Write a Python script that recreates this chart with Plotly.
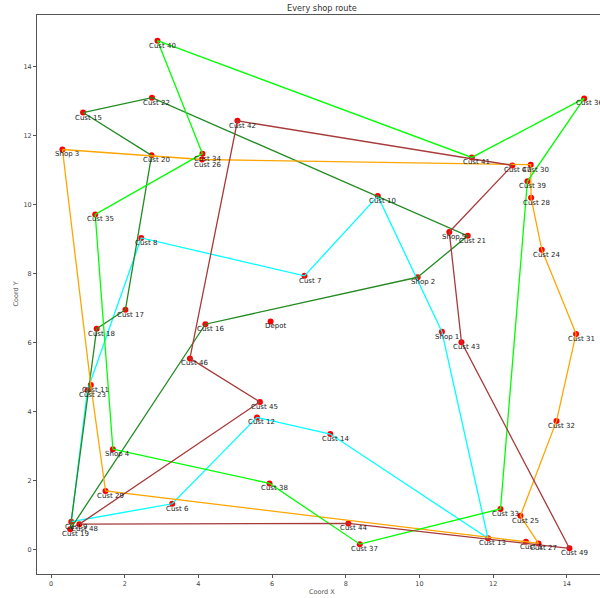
import plotly.graph_objects as go

# Node names and coordinates
node_names = [
    "Depot", "Shop 1", "Shop 2", "Shop 3", "Shop 4", "Shop 5",
    "Cust 5", "Cust 6", "Cust 7", "Cust 8", "Cust 9", "Cust 10",
    "Cust 11", "Cust 12", "Cust 13", "Cust 14", "Cust 15", "Cust 16",
    "Cust 17", "Cust 18", "Cust 19", "Cust 20", "Cust 21", "Cust 22",
    "Cust 23", "Cust 24", "Cust 25", "Cust 26", "Cust 27", "Cust 28",
    "Cust 29", "Cust 30", "Cust 31", "Cust 32", "Cust 33", "Cust 34",
    "Cust 35", "Cust 36", "Cust 37", "Cust 38", "Cust 39", "Cust 40",
    "Cust 41", "Cust 42", "Cust 43", "Cust 44", "Cust 45", "Cust 46",
    "Cust 47", "Cust 48", "Cust 49",
]
node_x = [
    5.96, 10.61, 9.95, 0.31, 1.68, 10.81,
    12.89, 3.29, 6.88, 2.45, 0.55, 8.87,
    1.08, 5.59, 11.86, 7.58, 0.87, 4.19,
    2.02, 1.24, 0.52, 2.73, 11.31, 2.74,
    0.99, 13.32, 12.74, 4.10, 13.23, 13.03,
    1.48, 13.02, 14.25, 13.72, 12.20, 4.11,
    1.20, 14.47, 8.38, 5.93, 12.93, 2.89,
    11.42, 5.06, 11.14, 8.07, 5.67, 3.77,
    12.52, 0.77, 14.07,
]
node_y = [
    6.61, 6.31, 7.89, 11.59, 2.91, 9.20,
    0.23, 1.33, 7.93, 9.03, 0.81, 10.24,
    4.77, 3.83, 0.33, 3.35, 12.66, 6.53,
    6.95, 6.40, 0.59, 11.42, 9.09, 13.09,
    4.62, 8.69, 0.98, 11.30, 0.18, 10.19,
    1.70, 11.15, 6.25, 3.73, 1.18, 11.47,
    9.71, 13.07, 0.16, 1.92, 10.67, 14.74,
    11.36, 12.42, 6.01, 0.76, 4.28, 5.54,
    11.13, 0.74, 0.04,
]

# One closed route per shop
route_shop1 = ["Shop 1", "Cust 13", "Cust 14", "Cust 12", "Cust 6", "Cust 9",
               "Cust 23", "Cust 8", "Cust 7", "Cust 10", "Shop 1"]
route_shop2 = ["Shop 2", "Cust 21", "Cust 22", "Cust 15", "Cust 20", "Cust 17",
               "Cust 18", "Cust 19", "Cust 16", "Shop 2"]
route_shop3 = ["Shop 3", "Cust 26", "Cust 30", "Cust 28", "Cust 24", "Cust 31",
               "Cust 32", "Cust 25", "Cust 27", "Cust 5", "Cust 29", "Cust 11",
               "Shop 3"]
route_shop4 = ["Shop 4", "Cust 35", "Cust 34", "Cust 40", "Cust 41", "Cust 36",
               "Cust 39", "Cust 33", "Cust 37", "Cust 38", "Shop 4"]
route_shop5 = ["Shop 5", "Cust 43", "Cust 49", "Cust 44", "Cust 48", "Cust 45",
               "Cust 46", "Cust 42", "Cust 47", "Shop 5"]

routes = [route_shop1, route_shop2, route_shop3, route_shop4, route_shop5]
route_colors = ["#00FFFF", "#228B22", "#FFA500", "#00FF00", "#A83A3A"]

x_ticks = [0, 2, 4, 6, 8, 10, 12, 14]
y_ticks = [0, 2, 4, 6, 8, 10, 12, 14]

pos = {n: (x, y) for n, x, y in zip(node_names, node_x, node_y)}

fig = go.Figure()

# Nodes
fig.add_trace(go.Scatter(
    x=node_x, y=node_y, mode="markers",
    marker=dict(color="red", size=6, line=dict(width=0)),
    hoverinfo="skip",
))

# Routes drawn over the nodes
for route, color in zip(routes, route_colors):
    fig.add_trace(go.Scatter(
        x=[pos[n][0] for n in route],
        y=[pos[n][1] for n in route],
        mode="lines",
        line=dict(color=color, width=1.3),
        hoverinfo="skip",
    ))

# Node labels
for n, x, y in zip(node_names, node_x, node_y):
    fig.add_annotation(
        x=x, y=y, text=n, showarrow=False,
        xanchor="center", yanchor="middle", xshift=5, yshift=-5,
        font=dict(family="DejaVu Sans", size=7, color="#222"),
    )

# Title and axis titles
fig.add_annotation(
    xref="paper", yref="paper", x=0.506, y=1, text="Every shop route",
    showarrow=False, xanchor="center", yanchor="middle", yshift=7,
    font=dict(family="DejaVu Sans", size=8.2, color="#333"),
)
fig.add_annotation(
    xref="paper", yref="paper", x=0.506, y=0, text="Coord X",
    showarrow=False, xanchor="center", yanchor="middle", yshift=-18,
    font=dict(family="DejaVu Sans", size=6.5, color="#555"),
)
fig.add_annotation(
    xref="paper", yref="paper", x=0, y=0.5, text="Coord Y", textangle=-90,
    showarrow=False, xanchor="center", yanchor="middle", xshift=-22,
    font=dict(family="DejaVu Sans", size=6.5, color="#555"),
)

axis_common = dict(
    showgrid=False, zeroline=False, showline=True, linecolor="#555",
    linewidth=1, ticks="outside", ticklen=3, tickcolor="#555",
    tickfont=dict(family="DejaVu Sans", size=6.5, color="#444"),
)
fig.update_xaxes(range=[-0.38, 14.90], tickvals=x_ticks, mirror=True, **axis_common)
fig.update_yaxes(range=[-0.704, 15.485], tickvals=y_ticks, mirror=False, **axis_common)

fig.update_layout(
    width=600, height=598,
    margin=dict(l=37, r=0, t=15, b=24, pad=0),
    plot_bgcolor="white", paper_bgcolor="white",
    showlegend=False,
)

fig.write_html("out.html")
